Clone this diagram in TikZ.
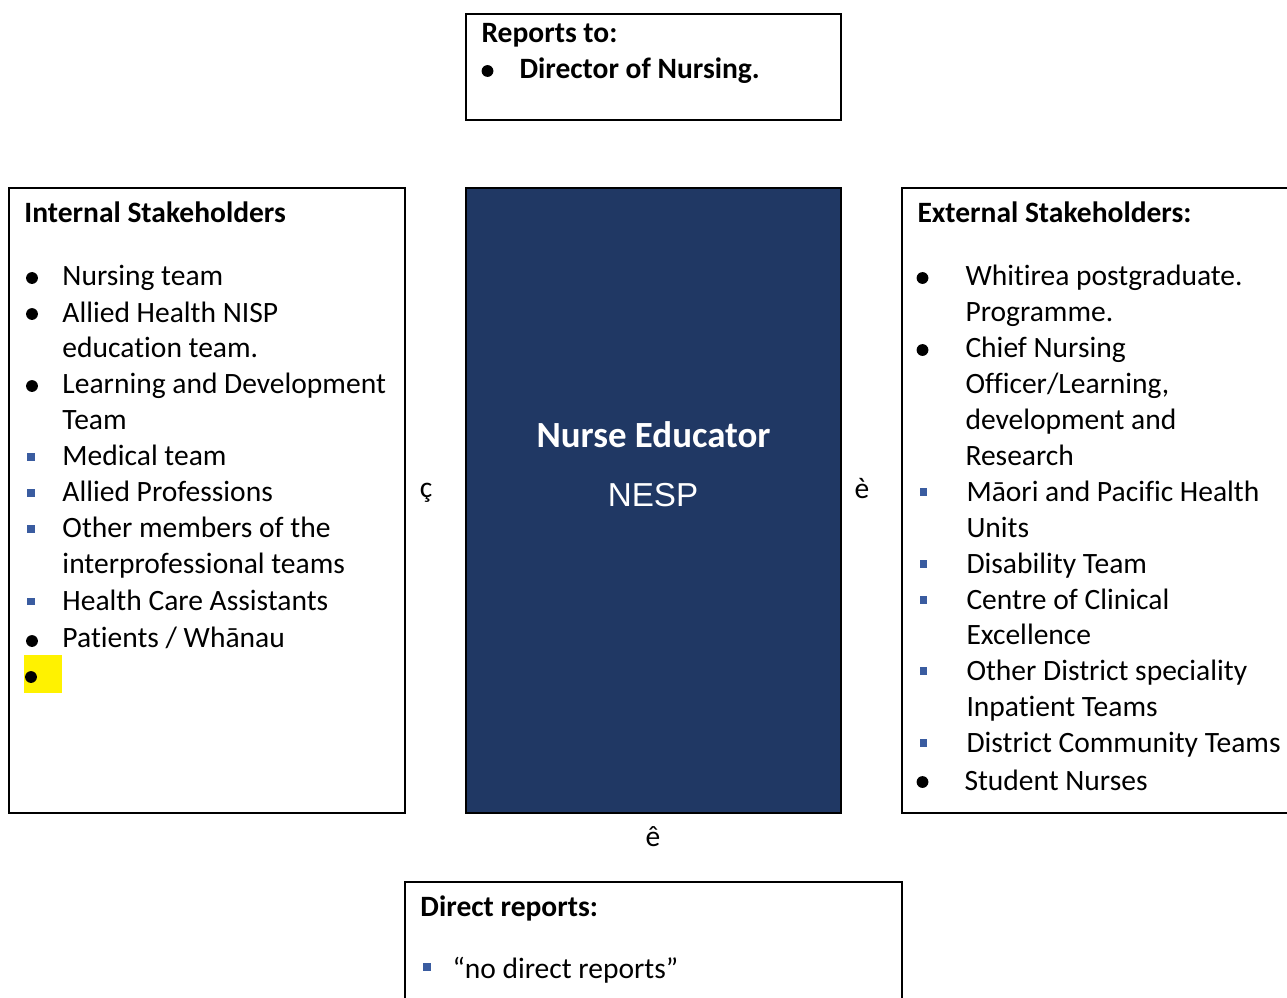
\documentclass[tikz,border=0pt]{standalone}
\usepackage{fontspec}
\setmainfont{Carlito}[Ligatures=NoCommon, Contextuals=NoAlternate, RawFeature={-liga;-clig}]
\newfontfamily\arialfont{Liberation Sans}
\usetikzlibrary{positioning}
\definecolor{navybox}{RGB}{32,56,100}
\definecolor{bulletblue}{RGB}{58,92,160}
\begin{document}
\begin{tikzpicture}[x=0.4065pt, y=-0.4065pt,
    box/.style={draw=black, line width=0.8pt},
    txt/.style={anchor=base west, inner sep=0pt, text=black, font=\fontsize{12}{14}\selectfont},
    head/.style={txt, font=\fontsize{12}{14}\selectfont\bfseries},
    dot/.style={circle, fill=black, inner sep=0pt, minimum size=4.8pt},
    sqbullet/.style={rectangle, fill=bulletblue, inner sep=0pt, minimum size=3.05pt},
    arrowchar/.style={anchor=base, inner sep=0pt, font=\fontsize{12}{14}\selectfont}]
\useasboundingbox (0,0) rectangle (1287,997);
\clip (0,0) rectangle (1287,997);

% reports to
\draw[box] (466,14) rectangle (841,120);
\node[head] (reports) at (481,42.5) {Reports to:};
\node[dot] (repdot) at (487.5,71) {};
\node[head] (director) at (519,78.5) {Director of Nursing.};

% internal stakeholders
\draw[box] (9,188) rectangle (405,813);
\node[head] (internal) at (24,222) {Internal Stakeholders};
\node[dot] at (32,278) {};
\node[txt] (int1) at (62,285.5) {Nursing team};
\node[dot] at (32,314) {};
\node[txt] (int2) at (62,322) {Allied Health NISP};
\node[txt] (int2b) at (62,357.5) {education team.};
\node[dot] at (32,386) {};
\node[txt] (int3) at (62,393.5) {Learning and Development};
\node[txt] (int3b) at (62,429.5) {Team};
\node[sqbullet] at (31,457) {};
\node[txt] (int4) at (62,465.5) {Medical team};
\node[sqbullet] at (31,493) {};
\node[txt] (int5) at (62,501.5) {Allied Professions};
\node[sqbullet] at (31,529) {};
\node[txt] (int6) at (62,537.5) {Other members of the};
\node[txt] (int6b) at (62,573.5) {interprofessional teams};
\node[sqbullet] at (31,601.5) {};
\node[txt] (int7) at (62,610) {Health Care Assistants};
\node[dot] at (32,641) {};
\node[txt] (int8) at (62,647.5) {Patients / Whānau};
\fill[yellow] (24,655) rectangle (62,693);
\node[dot] at (31,677) {};

% nurse educator
\draw[box, fill=navybox] (466,188) rectangle (841,813);
\node[anchor=base, inner sep=0pt, text=white, font=\fontsize{15}{18}\selectfont\bfseries] (educator) at (653.5,447) {Nurse Educator};
\node[anchor=base, inner sep=0pt, text=white, font=\arialfont\fontsize{13.5}{16}\selectfont] (nesp) at (653,506) {NESP};

% external stakeholders
\draw[box] (902,188) rectangle (1310,813);
\node[head] (external) at (917,222) {External Stakeholders:};
\node[dot] at (922.5,278) {};
\node[txt] (ext1) at (965,285.5) {Whitirea postgraduate.};
\node[txt] (ext1b) at (965,321.5) {Programme.};
\node[dot] at (922.5,350) {};
\node[txt] (ext2) at (965,357.5) {Chief Nursing};
\node[txt] (ext2b) at (965,393.5) {Officer/Learning,};
\node[txt] (ext2c) at (965,429.5) {development and};
\node[txt] (ext2d) at (965,465.5) {Research};
\node[sqbullet] at (923.5,492) {};
\node[txt] (ext3) at (966,501) {Māori and Pacific Health};
\node[txt] (ext3b) at (966,537) {Units};
\node[sqbullet] at (923.5,564) {};
\node[txt] (ext4) at (966,573) {Disability Team};
\node[sqbullet] at (923.5,600) {};
\node[txt] (ext5) at (966,609) {Centre of Clinical};
\node[txt] (ext5b) at (966,644.5) {Excellence};
\node[sqbullet] at (923.5,671) {};
\node[txt] (ext6) at (966,680.5) {Other District speciality};
\node[txt] (ext6b) at (966,716.5) {Inpatient Teams};
\node[sqbullet] at (923.5,743) {};
\node[txt] (ext7) at (966,752.5) {District Community Teams};
\node[dot] at (922.5,782) {};
\node[txt] (ext8) at (964,790) {Student Nurses};

% arrows (symbol font characters)
\node[arrowchar] (leftarrow) at (426,497) {ç};
\node[arrowchar] (rightarrow) at (862,498.5) {è};
\node[arrowchar] (downarrow) at (653,846.5) {ê};

% direct reports
\draw[box] (405,882) rectangle (902,1010);
\node[head] (direct) at (420,916.5) {Direct reports:};
\node[sqbullet] at (427,967) {};
\node[txt] (none) at (452,978.5) {“no direct reports”};

\end{tikzpicture}
\end{document}
